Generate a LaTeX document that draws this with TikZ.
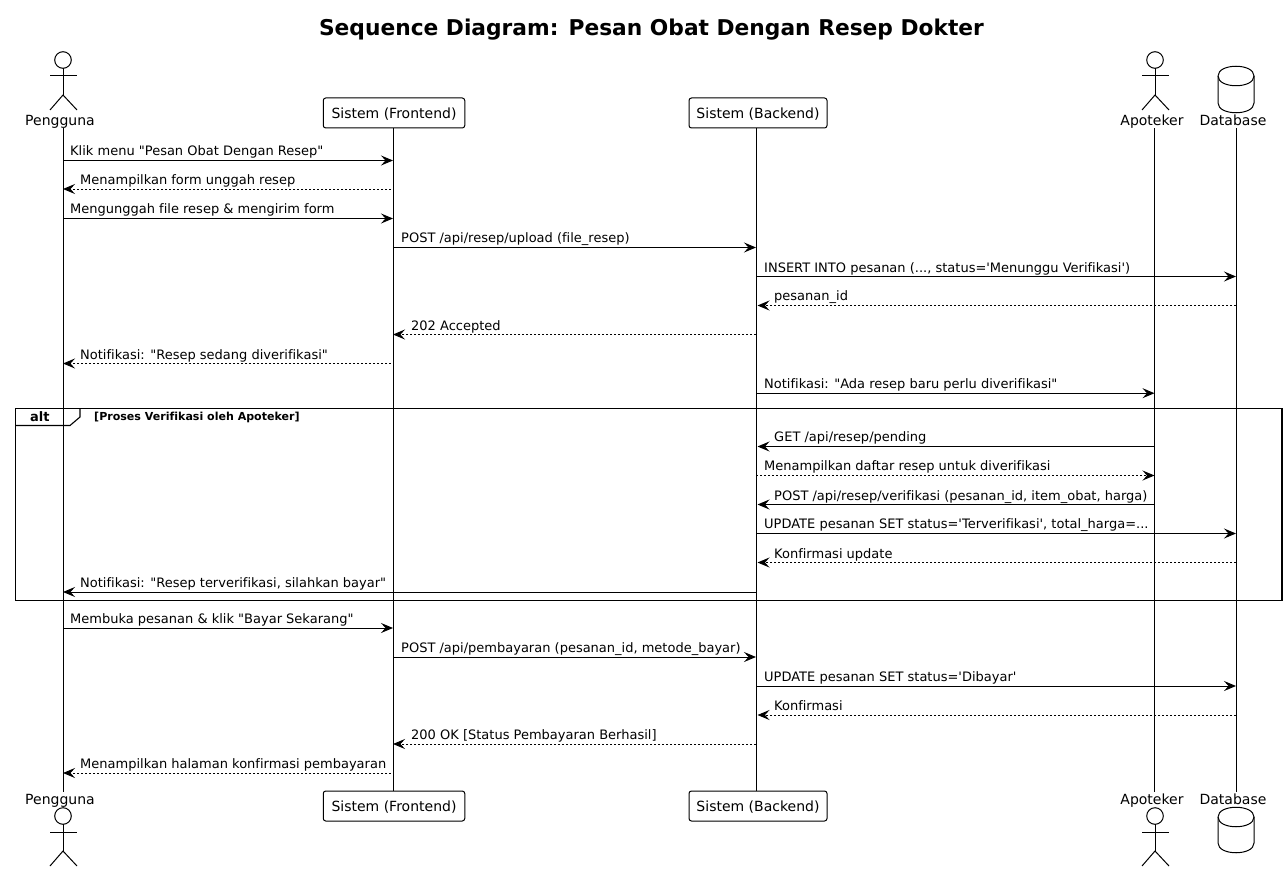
\documentclass[tikz,border=0pt]{standalone}
\usepackage{fontspec}
\setmainfont[Ligatures=NoCommon]{DejaVu Sans}
\usetikzlibrary{arrows.meta}

\newcommand{\qt}{\textquotesingle}
\newcommand{\dq}{\textquotedbl}

\tikzset{
    sync/.style={draw=black, line width=1pt, -{Stealth[length=12pt, width=10pt, inset=4.5pt]}},
    reply/.style={sync, dash pattern=on 2pt off 2pt},
    msglabel/.style={anchor=base west, inner sep=0pt, font=\fontsize{13}{15}\selectfont},
    box/.style={draw, line width=1pt, rounded corners=2.5pt, fill=white, minimum height=30pt, inner sep=0pt, text height=12.5pt, text depth=2pt, font=\fontsize{14}{16}\selectfont},
    actorlabel/.style={inner sep=0pt, text height=12pt, text depth=2pt, font=\fontsize{14}{16}\selectfont},
    lifeline/.style={line width=1pt},
    figure/.style={line width=1pt}
}

\begin{document}
\begin{tikzpicture}[x=1pt, y=-1pt]
    \useasboundingbox (0,0) rectangle (1287,872);

    \node (title) at (651.5,30) {\fontsize{21.75}{25}\selectfont\bfseries Sequence Diagram: Pesan Obat Dengan Resep Dokter};

    % lifeline positions
    \coordinate (pengguna) at (63,0);
    \coordinate (frontend) at (393,0);
    \coordinate (backend) at (756,0);
    \coordinate (apoteker) at (1154.5,0);
    \coordinate (database) at (1236,0);

    % heads and feet
    \node[actorlabel] (penggunatop) at (60,121) {Pengguna};
    \node[box, minimum width=141.5pt] (frontendtop) at (394,113) {Sistem (Frontend)};
    \node[box, minimum width=138pt] (backendtop) at (758,113) {Sistem (Backend)};
    \node[actorlabel] (apotekertop) at (1152,121) {Apoteker};
    \node[actorlabel] (databasetop) at (1233,121) {Database};

    \node[actorlabel] (penggunabot) at (60,799) {Pengguna};
    \node[box, minimum width=141.5pt] (frontendbot) at (394,806) {Sistem (Frontend)};
    \node[box, minimum width=138pt] (backendbot) at (758,806) {Sistem (Backend)};
    \node[actorlabel] (apotekerbot) at (1152,799) {Apoteker};
    \node[actorlabel] (databasebot) at (1233,799) {Database};

    \draw[lifeline] (pengguna |- penggunatop.south) -- (pengguna |- penggunabot.north);
    \draw[lifeline] (frontend |- frontendtop.south) -- (frontend |- frontendbot.north);
    \draw[lifeline] (backend |- backendtop.south) -- (backend |- backendbot.north);
    \draw[lifeline] (apoteker |- apotekertop.south) -- (apoteker |- apotekerbot.north);
    \draw[lifeline] (database |- databasetop.south) -- (database |- databasebot.north);

    % actors
    \draw[figure] (63,60) circle[radius=8.3];
    \draw[figure] (63,68.3) -- (63,95);
    \draw[figure] (50,76) -- (77,76);
    \draw[figure] (50,110) -- (63,95) -- (77,110);

    \draw[figure] (63,816) circle[radius=8.3];
    \draw[figure] (63,824.3) -- (63,851);
    \draw[figure] (50,832) -- (77,832);
    \draw[figure] (50,866) -- (63,851) -- (77,866);

    \draw[figure] (1155,60) circle[radius=8.3];
    \draw[figure] (1155,68.3) -- (1155,95);
    \draw[figure] (1142,76) -- (1169,76);
    \draw[figure] (1142,110) -- (1155,95) -- (1169,110);

    \draw[figure] (1155,816) circle[radius=8.3];
    \draw[figure] (1155,824.3) -- (1155,851);
    \draw[figure] (1142,832) -- (1169,832);
    \draw[figure] (1142,866) -- (1155,851) -- (1169,866);

    % database drums
    \draw[figure, fill=white] (1218,76)
        .. controls (1218,63) and (1254,63) .. (1254,76)
        -- (1254,103)
        .. controls (1254,116) and (1218,116) .. (1218,103)
        -- cycle;
    \draw[figure] (1218,76) .. controls (1218,89) and (1254,89) .. (1254,76);

    \draw[figure, fill=white] (1218,817)
        .. controls (1218,804) and (1254,804) .. (1254,817)
        -- (1254,843)
        .. controls (1254,856) and (1218,856) .. (1218,843)
        -- cycle;
    \draw[figure] (1218,817) .. controls (1218,830) and (1254,830) .. (1254,817);

    % alt frame
    \coordinate (altnw) at (15.5,408.3);
    \coordinate (altse) at (1282,600.2);
    \coordinate (tabtop) at (80,408.3);
    \coordinate (tabmid) at (80,417);
    \coordinate (tabcut) at (70,425.5);
    \coordinate (tabend) at (15.5,425.5);
    \draw[line width=1.1pt] (altnw) rectangle (altse);
    \draw[line width=1.1pt] (tabtop) -- (tabmid) -- (tabcut) -- (tabend);
    \node[msglabel, font=\fontsize{13}{15}\selectfont\bfseries] (alttag) at (30,421.7) {alt};
    \node[msglabel, font=\fontsize{11.05}{13}\selectfont\bfseries] (altguard) at (94,420.3) {[Proses Verifikasi oleh Apoteker]};

    % message levels
    \coordinate (m01) at (0,160.5);
    \coordinate (m02) at (0,189);
    \coordinate (m03) at (0,218.5);
    \coordinate (m04) at (0,247.5);
    \coordinate (m05) at (0,276.5);
    \coordinate (m06) at (0,305.5);
    \coordinate (m07) at (0,334.5);
    \coordinate (m08) at (0,363.5);
    \coordinate (m09) at (0,393.2);
    \coordinate (m10) at (0,446.5);
    \coordinate (m11) at (0,475.5);
    \coordinate (m12) at (0,504.5);
    \coordinate (m13) at (0,533.5);
    \coordinate (m14) at (0,562.5);
    \coordinate (m15) at (0,592);
    \coordinate (m16) at (0,628);
    \coordinate (m17) at (0,657);
    \coordinate (m18) at (0,686);
    \coordinate (m19) at (0,715);
    \coordinate (m20) at (0,744);
    \coordinate (m21) at (0,773);

    \draw[sync] (pengguna |- m01) -- (frontend |- m01);
    \draw[reply, shorten <=2pt] (frontend |- m02) -- (pengguna |- m02);
    \draw[sync] (pengguna |- m03) -- (frontend |- m03);
    \draw[sync] (frontend |- m04) -- (backend |- m04);
    \draw[sync] (backend |- m05) -- (database |- m05);
    \draw[reply, shorten >=1.5pt] (database |- m06) -- (backend |- m06);
    \draw[reply] (backend |- m07) -- (frontend |- m07);
    \draw[reply, shorten <=2pt] (frontend |- m08) -- (pengguna |- m08);
    \draw[sync] (backend |- m09) -- (apoteker |- m09);
    \draw[sync, shorten >=1.5pt] (apoteker |- m10) -- (backend |- m10);
    \draw[reply] (backend |- m11) -- (apoteker |- m11);
    \draw[sync, shorten >=1.5pt] (apoteker |- m12) -- (backend |- m12);
    \draw[sync] (backend |- m13) -- (database |- m13);
    \draw[reply, shorten >=1.5pt] (database |- m14) -- (backend |- m14);
    \draw[sync] (backend |- m15) -- (pengguna |- m15);
    \draw[sync] (pengguna |- m16) -- (frontend |- m16);
    \draw[sync] (frontend |- m17) -- (backend |- m17);
    \draw[sync] (backend |- m18) -- (database |- m18);
    \draw[reply, shorten >=1.5pt] (database |- m19) -- (backend |- m19);
    \draw[reply] (backend |- m20) -- (frontend |- m20);
    \draw[reply, shorten <=2pt] (frontend |- m21) -- (pengguna |- m21);

    \node[msglabel] (t01) at (70,155) {Klik menu \dq Pesan Obat Dengan Resep\dq};
    \node[msglabel] (t02) at (80,184.4) {Menampilkan form unggah resep};
    \node[msglabel] (t03) at (70,213) {Mengunggah file resep \& mengirim form};
    \node[msglabel] (t04) at (401,242) {POST /api/resep/upload (file\_resep)};
    \node[msglabel] (t05) at (764,272.3) {INSERT INTO pesanan (..., status=\qt Menunggu Verifikasi\qt)};
    \node[msglabel] (t06) at (774,300.7) {pesanan\_id};
    \node[msglabel] (t07) at (411,330) {202 Accepted};
    \node[msglabel] (t08) at (80,359) {Notifikasi: \dq Resep sedang diverifikasi\dq};
    \node[msglabel] (t09) at (764,388.3) {Notifikasi: \dq Ada resep baru perlu diverifikasi\dq};
    \node[msglabel] (t10) at (774,441) {GET /api/resep/pending};
    \node[msglabel] (t11) at (764,470) {Menampilkan daftar resep untuk diverifikasi};
    \node[msglabel] (t12) at (774,500) {POST /api/resep/verifikasi (pesanan\_id, item\_obat, harga)};
    \node[msglabel] (t13) at (764,528) {UPDATE pesanan SET status=\qt Terverifikasi\qt, total\_harga=...};
    \node[msglabel] (t14) at (774,558) {Konfirmasi update};
    \node[msglabel] (t15) at (80,587) {Notifikasi: \dq Resep terverifikasi, silahkan bayar\dq};
    \node[msglabel] (t16) at (70,623) {Membuka pesanan \& klik \dq Bayar Sekarang\dq};
    \node[msglabel] (t17) at (401,652) {POST /api/pembayaran (pesanan\_id, metode\_bayar)};
    \node[msglabel] (t18) at (764,681) {UPDATE pesanan SET status=\qt Dibayar\qt};
    \node[msglabel] (t19) at (774,710) {Konfirmasi};
    \node[msglabel] (t20) at (411,739.7) {200 OK [Status Pembayaran Berhasil]};
    \node[msglabel] (t21) at (80,768) {Menampilkan halaman konfirmasi pembayaran};
\end{tikzpicture}
\end{document}
